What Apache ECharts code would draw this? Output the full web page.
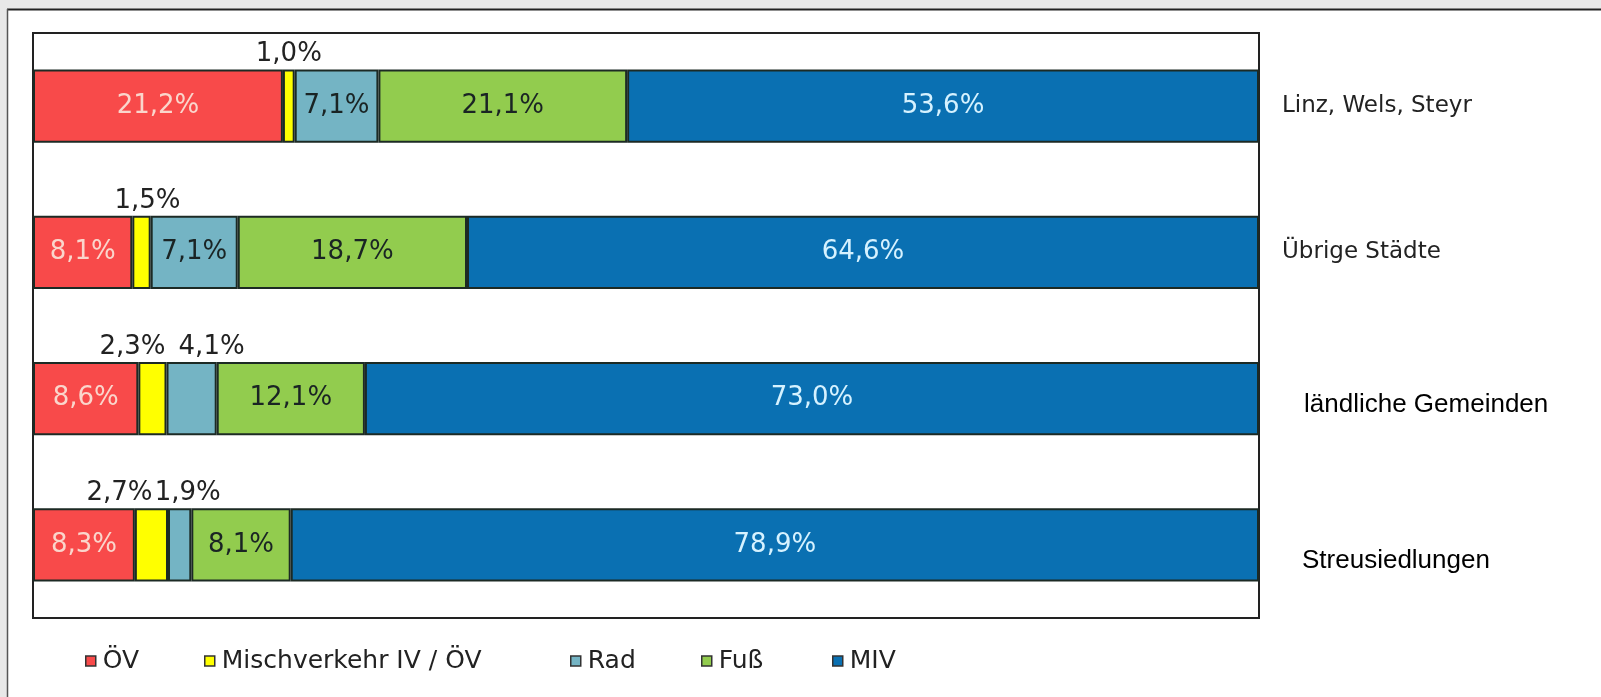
<!DOCTYPE html>
<html lang="de">
<head>
  <meta charset="utf-8">
  <title>Modal Split</title>
  <script src="https://cdn.jsdelivr.net/npm/echarts@6/dist/echarts.min.js"></script>
  <style>
    html, body { margin: 0; padding: 0; background: #e8e8e8; }
    #main { width: 1601px; height: 697px; }
  </style>
</head>
<body>
  <div id="main"></div>
  <script>
    // Kategorien (Raumtypen)
    var categories = ['Linz, Wels, Steyr', 'Übrige Städte', 'ländliche Gemeinden', 'Streusiedlungen'];
    // Verkehrsmittel
    var seriesNames = ['ÖV', 'Mischverkehr IV / ÖV', 'Rad', 'Fuß', 'MIV'];
    // Anteile in %, je Verkehrsmittel (Reihenfolge wie categories)
    var oev   = [21.2, 8.1, 8.6, 8.3];
    var misch = [1.0, 1.5, 2.3, 2.7];
    var rad   = [7.1, 7.1, 4.1, 1.9];
    var fuss  = [21.1, 18.7, 12.1, 8.1];
    var miv   = [53.6, 64.6, 73.0, 78.9];

    var values = [oev, misch, rad, fuss, miv];
    var colors = ['#f84a4a', '#ffff00', '#74b4c4', '#92cc4e', '#0a70b2'];
    var labelColors = ['#fad6cc', '#1a2424', '#1a2424', '#1a2424', '#d6f2ff'];

    // Beschriftungen kleiner Segmente über dem Balken, leicht verschoben
    var topLabels = {
      '1-0': 0, '1-1': 6, '1-2': -20, '2-2': 20, '1-3': -32, '2-3': 8
    };

    // Zeilensummen -> Balken werden auf 100 % normiert
    var totals = categories.map(function (c, i) {
      return values.reduce(function (s, arr) { return s + arr[i]; }, 0);
    });

    function fmt(v) {
      return v.toFixed(1).replace('.', ',') + '%';
    }

    var myChart = echarts.init(document.getElementById('main'));

    var series = seriesNames.map(function (name, s) {
      return {
        name: name,
        type: 'bar',
        stack: 'total',
        barWidth: '50%',
        itemStyle: { color: colors[s], borderColor: '#1c2a24', borderWidth: 2 },
        label: {
          show: true,
          position: 'inside',
          fontFamily: 'DejaVu Sans',
          fontSize: 26,
          color: labelColors[s],
          formatter: function (p) { return fmt(p.data.raw); }
        },
        data: values[s].map(function (v, i) {
          var item = { value: v / totals[i] * 100, raw: v };
          if ((s + '-' + i) in topLabels) {
            item.label = { position: 'top', distance: 2, color: '#222' };
          }
          return item;
        }),
        labelLayout: function (p) {
          var dx = topLabels[s + '-' + p.dataIndex];
          return dx ? { dx: dx, hideOverlap: false } : { hideOverlap: false };
        },
        emphasis: { disabled: true }
      };
    });

    // Legenden einzeln platzieren
    var legendLeft = [80, 199, 565, 696, 827];
    var legends = seriesNames.map(function (name, s) {
      return {
        data: [name],
        left: legendLeft[s],
        top: 643,
        icon: 'rect',
        itemWidth: 10,
        itemHeight: 10,
        itemStyle: { borderWidth: 1.5, borderColor: '#333' },
        selectedMode: false,
        textStyle: {
          fontFamily: 'DejaVu Sans',
          fontSize: 25,
          lineHeight: 26,
          color: '#222',
          padding: [0, 0, 0, 2]
        }
      };
    });

    var option = {
      backgroundColor: '#e8e8e8',
      animation: false,
      graphic: [
        { type: 'rect', z: -10, shape: { x: 8, y: 10, width: 1593, height: 687 }, style: { fill: '#fff' } },
        { type: 'line', z: -5, shape: { x1: 7, y1: 9.5, x2: 1601, y2: 9.5 }, style: { stroke: '#222', lineWidth: 2 } },
        { type: 'line', z: -5, shape: { x1: 7.5, y1: 9, x2: 7.5, y2: 697 }, style: { stroke: '#555', lineWidth: 1.5 } }
      ],
      grid: {
        left: 33,
        right: 342,
        top: 33,
        bottom: 79,
        show: true,
        backgroundColor: '#fff',
        borderColor: '#222',
        borderWidth: 2
      },
      xAxis: {
        type: 'value',
        min: 0,
        max: 100,
        show: false
      },
      yAxis: {
        type: 'category',
        inverse: true,
        position: 'right',
        data: categories,
        axisLine: { show: false },
        axisTick: { show: false },
        splitLine: { show: false },
        axisLabel: {
          margin: 23,
          formatter: function (value, index) {
            if (index < 2) return '{a|' + value + '}';
            return (index === 2 ? '{b|' : '{c|') + value + '}';
          },
          rich: {
            a: { fontFamily: 'DejaVu Sans', fontSize: 23, color: '#222' },
            b: { fontFamily: 'Liberation Sans', fontSize: 26, color: '#000', padding: [12, 0, 0, 22] },
            c: { fontFamily: 'Liberation Sans', fontSize: 26, color: '#000', padding: [32, 0, 0, 20] }
          }
        }
      },
      legend: legends,
      series: series
    };

    myChart.setOption(option);
  </script>
</body>
</html>
